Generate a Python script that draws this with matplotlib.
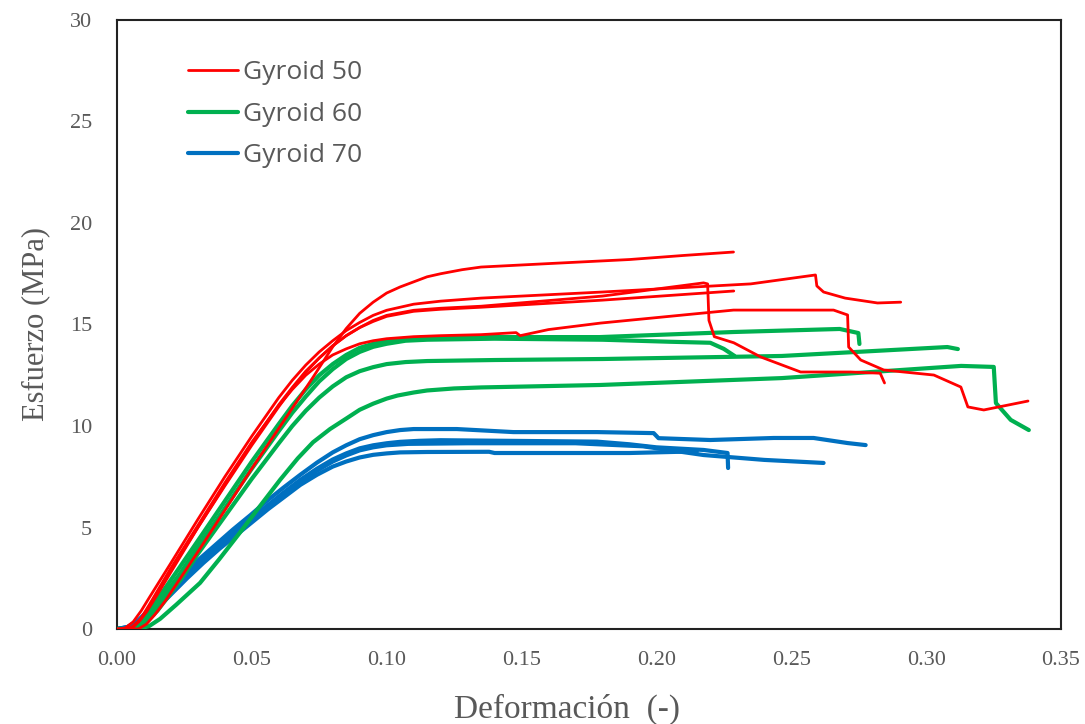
import matplotlib
matplotlib.use("Agg")
import matplotlib.pyplot as plt

# ---------------- data ----------------
# Gyroid 50 (red)
r1_x = [0, 0.008, 0.011, 0.014, 0.018, 0.030, 0.0505, 0.0727, 0.080, 0.085, 0.090, 0.095, 0.100, 0.105, 0.110, 0.115, 0.120, 0.128, 0.135, 0.160, 0.190, 0.210, 0.2286]
r1_y = [0, 0.0, 0.25, 0.7, 1.4, 3.8, 8.0, 12.4, 13.9, 14.8, 15.55, 16.1, 16.55, 16.85, 17.1, 17.35, 17.5, 17.7, 17.83, 18.0, 18.2, 18.4, 18.57]

r2_x = [0, 0.003, 0.006, 0.009, 0.012, 0.016, 0.020, 0.030, 0.040, 0.050, 0.060, 0.065, 0.070, 0.075, 0.080, 0.085, 0.090, 0.095, 0.100, 0.110, 0.120, 0.135, 0.180, 0.235, 0.259, 0.2595, 0.262, 0.270, 0.282, 0.2906]
r2_y = [0, 0.05, 0.35, 0.9, 1.55, 2.4, 3.25, 5.4, 7.5, 9.5, 11.4, 12.25, 13.0, 13.65, 14.2, 14.7, 15.1, 15.45, 15.7, 16.0, 16.15, 16.3, 16.6, 17.0, 17.44, 16.9, 16.6, 16.3, 16.06, 16.1]

r3_x = [0.002, 0.005, 0.008, 0.011, 0.015, 0.020, 0.030, 0.040, 0.050, 0.060, 0.065, 0.070, 0.075, 0.080, 0.085, 0.090, 0.095, 0.100, 0.110, 0.120, 0.135, 0.180, 0.2175, 0.219, 0.2195, 0.2215, 0.2287, 0.2387, 0.2535, 0.272, 0.283, 0.2846]
r3_y = [0, 0.05, 0.35, 0.85, 1.7, 2.8, 5.0, 7.1, 9.15, 11.05, 11.9, 12.7, 13.35, 13.95, 14.45, 14.85, 15.2, 15.45, 15.7, 15.8, 15.9, 16.4, 17.05, 17.0, 15.2, 14.4, 14.1, 13.4, 12.66, 12.66, 12.6, 12.12]

r4_x = [0.003, 0.006, 0.009, 0.012, 0.016, 0.020, 0.030, 0.040, 0.050, 0.060, 0.065, 0.070, 0.075, 0.080, 0.085, 0.090, 0.095, 0.100, 0.110, 0.120, 0.135, 0.148, 0.1495, 0.160, 0.1793, 0.2286, 0.2657, 0.2709, 0.2713, 0.2758, 0.2843, 0.3029, 0.3129, 0.3155, 0.3214, 0.3378]
r4_y = [0, 0.1, 0.55, 1.2, 2.1, 3.0, 5.1, 7.2, 9.2, 11.0, 11.8, 12.5, 13.05, 13.5, 13.8, 14.05, 14.2, 14.3, 14.4, 14.45, 14.5, 14.6, 14.45, 14.75, 15.07, 15.71, 15.71, 15.47, 13.89, 13.25, 12.76, 12.51, 11.92, 10.94, 10.79, 11.23]

r5_x = [0.003, 0.006, 0.009, 0.012, 0.016, 0.020, 0.030, 0.040, 0.050, 0.060, 0.065, 0.070, 0.075, 0.080, 0.085, 0.090, 0.095, 0.100, 0.110, 0.120, 0.135, 0.180, 0.2287]
r5_y = [0, 0.1, 0.5, 1.1, 2.0, 2.9, 5.0, 7.05, 9.05, 10.95, 11.85, 12.65, 13.35, 13.95, 14.45, 14.85, 15.15, 15.4, 15.65, 15.75, 15.85, 16.2, 16.65]

# Gyroid 60 (green)
g1_x = [0, 0.005, 0.009, 0.013, 0.017, 0.022, 0.030, 0.040, 0.050, 0.060, 0.065, 0.070, 0.075, 0.080, 0.085, 0.090, 0.095, 0.100, 0.107, 0.115, 0.130, 0.179, 0.2286, 0.268, 0.2749, 0.2753]
g1_y = [0, 0.0, 0.4, 1.05, 1.85, 2.8, 4.35, 6.3, 8.25, 10.1, 11.0, 11.8, 12.5, 13.05, 13.5, 13.85, 14.05, 14.2, 14.3, 14.35, 14.38, 14.38, 14.63, 14.78, 14.58, 14.04]

g2_x = [0, 0.006, 0.010, 0.014, 0.018, 0.023, 0.030, 0.040, 0.050, 0.060, 0.065, 0.070, 0.075, 0.080, 0.085, 0.090, 0.095, 0.100, 0.107, 0.115, 0.140, 0.180, 0.205, 0.220, 0.225, 0.229]
g2_y = [0, 0.0, 0.4, 1.0, 1.75, 2.65, 4.05, 5.95, 7.9, 9.75, 10.65, 11.45, 12.2, 12.8, 13.3, 13.65, 13.9, 14.05, 14.2, 14.25, 14.3, 14.25, 14.15, 14.1, 13.8, 13.45]

g3_x = [0, 0.007, 0.011, 0.015, 0.019, 0.024, 0.030, 0.040, 0.050, 0.060, 0.065, 0.070, 0.075, 0.080, 0.085, 0.090, 0.095, 0.100, 0.107, 0.115, 0.140, 0.180, 0.2465, 0.3079, 0.3118]
g3_y = [0, 0.0, 0.35, 0.9, 1.6, 2.5, 3.7, 5.55, 7.4, 9.15, 10.0, 10.75, 11.4, 11.95, 12.4, 12.7, 12.9, 13.05, 13.15, 13.2, 13.25, 13.3, 13.45, 13.89, 13.79]

g4_x = [0, 0.008, 0.012, 0.016, 0.022, 0.0308, 0.038, 0.0456, 0.053, 0.0605, 0.067, 0.0727, 0.079, 0.0854, 0.090, 0.095, 0.100, 0.104, 0.110, 0.115, 0.125, 0.135, 0.179, 0.2465, 0.313, 0.3251, 0.3259, 0.3314, 0.3381]
g4_y = [0, 0.0, 0.15, 0.5, 1.2, 2.27, 3.45, 4.75, 6.05, 7.35, 8.4, 9.2, 9.85, 10.4, 10.8, 11.1, 11.35, 11.5, 11.65, 11.75, 11.85, 11.9, 12.02, 12.36, 12.96, 12.91, 11.13, 10.30, 9.80]

# Gyroid 70 (blue)
b1_x = [0, 0.004, 0.008, 0.0123, 0.018, 0.0245, 0.031, 0.037, 0.043, 0.0494, 0.0555, 0.0616, 0.068, 0.0742, 0.080, 0.085, 0.090, 0.095, 0.100, 0.105, 0.110, 0.126, 0.147, 0.178, 0.199, 0.2008, 0.220, 0.2435, 0.2583, 0.2709, 0.2776]
b1_y = [0, 0.1, 0.45, 1.0, 1.8, 2.7, 3.5, 4.2, 4.9, 5.6, 6.3, 6.95, 7.6, 8.2, 8.7, 9.05, 9.35, 9.55, 9.7, 9.8, 9.85, 9.85, 9.7, 9.7, 9.65, 9.4, 9.31, 9.41, 9.41, 9.16, 9.06]

b2_x = [0, 0.004, 0.008, 0.0123, 0.018, 0.0245, 0.031, 0.037, 0.043, 0.0494, 0.0555, 0.0616, 0.068, 0.0742, 0.080, 0.085, 0.090, 0.095, 0.100, 0.105, 0.112, 0.120, 0.178, 0.190, 0.200, 0.2175, 0.2264, 0.2266]
b2_y = [0, 0.1, 0.4, 0.9, 1.65, 2.5, 3.3, 4.0, 4.7, 5.4, 6.05, 6.7, 7.35, 7.9, 8.35, 8.65, 8.9, 9.05, 9.15, 9.22, 9.27, 9.3, 9.23, 9.1, 8.95, 8.82, 8.67, 7.93]

b3_x = [0, 0.005, 0.009, 0.013, 0.019, 0.025, 0.031, 0.037, 0.043, 0.0494, 0.0555, 0.0616, 0.068, 0.0742, 0.080, 0.085, 0.090, 0.095, 0.100, 0.108, 0.130, 0.170, 0.195, 0.2175, 0.240, 0.262]
b3_y = [0, 0.1, 0.4, 0.85, 1.6, 2.45, 3.2, 3.9, 4.6, 5.3, 5.95, 6.6, 7.25, 7.8, 8.25, 8.55, 8.8, 8.95, 9.05, 9.12, 9.15, 9.15, 9.0, 8.57, 8.33, 8.18]

b4_x = [0, 0.005, 0.010, 0.014, 0.020, 0.026, 0.032, 0.038, 0.044, 0.050, 0.056, 0.062, 0.068, 0.0742, 0.080, 0.085, 0.090, 0.095, 0.100, 0.105, 0.115, 0.138, 0.140, 0.190, 0.215]
b4_y = [0, 0.05, 0.4, 0.9, 1.7, 2.5, 3.25, 3.95, 4.6, 5.25, 5.9, 6.5, 7.1, 7.6, 8.0, 8.25, 8.45, 8.58, 8.65, 8.7, 8.72, 8.73, 8.67, 8.67, 8.75]

labels = ["Gyroid 50", "Gyroid 60", "Gyroid 70"]
x_ticks = [0.00, 0.05, 0.10, 0.15, 0.20, 0.25, 0.30, 0.35]
y_ticks = [0, 5, 10, 15, 20, 25, 30]

# ---------------- style ----------------
RED = "#FF0000"
GREEN = "#00B050"
BLUE = "#0070C0"
GREY = "#595959"

fig = plt.figure(figsize=(10.85, 7.24), dpi=100)
ax = fig.add_axes([0.1078, 0.1312, 0.8700, 0.8412])

red_sets = [(r1_x, r1_y), (r2_x, r2_y), (r3_x, r3_y), (r4_x, r4_y), (r5_x, r5_y)]
green_sets = [(g1_x, g1_y), (g2_x, g2_y), (g3_x, g3_y), (g4_x, g4_y)]
blue_sets = [(b1_x, b1_y), (b2_x, b2_y), (b3_x, b3_y), (b4_x, b4_y)]

for i, (x, y) in enumerate(blue_sets):
    ax.plot(x, y, color=BLUE, lw=3.0, solid_capstyle="round", solid_joinstyle="round",
            label=labels[2] if i == 0 else None, zorder=2)
for i, (x, y) in enumerate(green_sets):
    ax.plot(x, y, color=GREEN, lw=3.0, solid_capstyle="round", solid_joinstyle="round",
            label=labels[1] if i == 0 else None, zorder=3)
for i, (x, y) in enumerate(red_sets):
    ax.plot(x, y, color=RED, lw=2.0, solid_capstyle="round", solid_joinstyle="round",
            label=labels[0] if i == 0 else None, zorder=4)

ax.set_xlim(0, 0.35)
ax.set_ylim(0, 30)
ax.set_xticks(x_ticks)
ax.set_yticks(y_ticks)
ax.set_xticklabels([f"{v:.2f}" for v in x_ticks], family="Liberation Serif", fontsize=16, color=GREY)
ax.set_yticklabels([str(v) for v in y_ticks], family="Liberation Serif", fontsize=16, color=GREY)
ax.tick_params(axis="both", length=0)
ax.tick_params(axis="x", pad=16)
ax.tick_params(axis="y", pad=18)

for s in ax.spines.values():
    s.set_linewidth(1.5)
    s.set_color("#222222")

ax.set_xlabel("Deformación  (-)", family="Liberation Serif", fontsize=24, color=GREY)
ax.xaxis.set_label_coords(0.477, -0.107)
ax.set_ylabel("Esfuerzo (MPa)", family="Liberation Serif", fontsize=22, color=GREY, labelpad=14)

handles, labs = ax.get_legend_handles_labels()
order = [labs.index(l) for l in labels]
leg = ax.legend([handles[i] for i in order], [labs[i] for i in order],
                loc="upper left", bbox_to_anchor=(0.0753, 0.9335), frameon=False,
                borderpad=0, borderaxespad=0,
                prop={"family": "Open Sans", "size": 19}, handlelength=1.9,
                handletextpad=0.2, labelspacing=0.62, labelcolor=GREY)

fig.savefig("out.png", dpi=100)
